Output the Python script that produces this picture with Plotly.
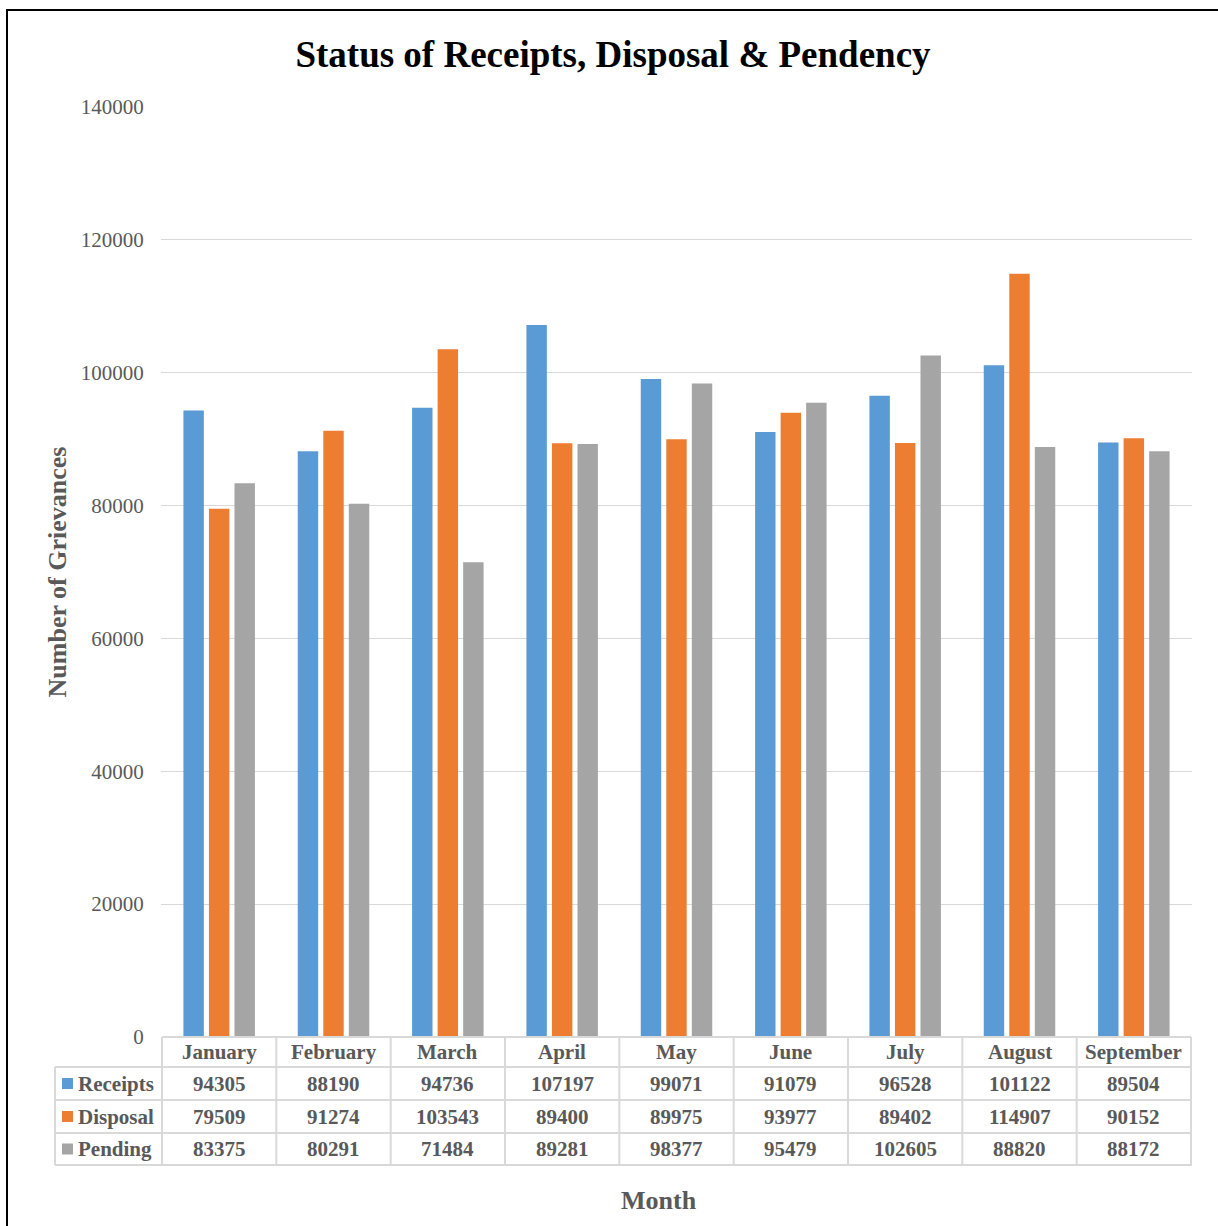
import plotly.graph_objects as go

months = ["January", "February", "March", "April", "May", "June", "July", "August", "September"]
series_names = ["Receipts", "Disposal", "Pending"]
receipts = [94305, 88190, 94736, 107197, 99071, 91079, 96528, 101122, 89504]
disposal = [79509, 91274, 103543, 89400, 89975, 93977, 89402, 114907, 90152]
pending = [83375, 80291, 71484, 89281, 98377, 95479, 102605, 88820, 88172]
colors = ["#5B9BD5", "#ED7D31", "#A5A5A5"]
y_ticks = [0, 20000, 40000, 60000, 80000, 100000, 120000, 140000]

W, H = 1218, 1226
L, R, T, B = 161, 1192, 107, 1037
FONT = "Liberation Serif"
GRAY = "#595959"
LINE = "#D9D9D9"


def py(p):
    return (B - p) / (B - T)


def px(p):
    return (p - L) / (R - L)


fig = go.Figure()
for name, vals, c in zip(series_names, [receipts, disposal, pending], colors):
    fig.add_trace(go.Bar(x=months, y=vals, name=name, marker=dict(color=c, line=dict(width=0))))

shapes = []
annotations = []

# table geometry (pixel rows)
row_edges = [1037, 1067, 1100, 1133, 1165]
n = len(months)
# horizontal lines
shapes.append(dict(type="line", xref="x", yref="paper", x0=-0.5, x1=n - 0.5,
                   y0=py(row_edges[0]), y1=py(row_edges[0]), line=dict(color=LINE, width=2)))
for e in row_edges[1:]:
    shapes.append(dict(type="line", xref="paper", yref="paper", x0=px(55), x1=1.0,
                       y0=py(e), y1=py(e), line=dict(color=LINE, width=2)))
# vertical lines
for k in range(n + 1):
    shapes.append(dict(type="line", xref="x", yref="paper", x0=k - 0.5, x1=k - 0.5,
                       y0=py(row_edges[0]), y1=py(row_edges[-1]), line=dict(color=LINE, width=2)))
shapes.append(dict(type="line", xref="paper", yref="paper", x0=px(55), x1=px(55),
                   y0=py(row_edges[1]), y1=py(row_edges[-1]), line=dict(color=LINE, width=2)))

# header text
hc = (row_edges[0] + row_edges[1]) / 2
for m in months:
    annotations.append(dict(x=m, y=py(hc), xref="x", yref="paper", text=m, showarrow=False,
                            font=dict(family=FONT, size=21, color=GRAY, weight="bold"),
                            xanchor="center", yanchor="middle"))
# rows
for i, (name, vals, c) in enumerate(zip(series_names, [receipts, disposal, pending], colors)):
    rc = (row_edges[i + 1] + row_edges[i + 2]) / 2
    for m, v in zip(months, vals):
        annotations.append(dict(x=m, y=py(rc), xref="x", yref="paper", text=str(v), showarrow=False,
                                font=dict(family=FONT, size=21, color=GRAY, weight="bold"),
                                xanchor="center", yanchor="middle"))
    shapes.append(dict(type="rect", xref="paper", yref="paper", x0=px(62), x1=px(73),
                       y0=py(rc + 5.5), y1=py(rc - 5.5), fillcolor=c, line=dict(width=0)))
    annotations.append(dict(x=px(76), y=py(rc), xref="paper", yref="paper", text=name, showarrow=False,
                            font=dict(family=FONT, size=21, color=GRAY, weight="bold"),
                            xanchor="left", yanchor="middle"))

# x axis title
annotations.append(dict(x=px(659), y=py(1200), xref="paper", yref="paper", text="Month", showarrow=False,
                        font=dict(family=FONT, size=26, color=GRAY, weight="bold"),
                        xanchor="center", yanchor="middle"))

# outer border
shapes.append(dict(type="rect", xref="paper", yref="paper", x0=px(7), x1=px(1260),
                   y0=py(1300), y1=py(10), line=dict(color="black", width=2), fillcolor="rgba(0,0,0,0)"))

fig.update_layout(
    width=W, height=H,
    margin=dict(l=L, r=W - R, t=T, b=H - B, autoexpand=False),
    paper_bgcolor="white", plot_bgcolor="white",
    barmode="group", bargap=0.33, bargroupgap=0.2,
    showlegend=False,
    title=dict(text="Status of Receipts, Disposal & Pendency", x=613 / W, xref="container", xanchor="center",
               y=1 - 54 / H, yref="container", yanchor="middle",
               font=dict(family=FONT, size=37, color="black", weight="bold")),
    xaxis=dict(showticklabels=False, showgrid=False, showline=False, zeroline=False, ticks=""),
    yaxis=dict(range=[0, 140000], tickvals=y_ticks, ticktext=[str(t) for t in y_ticks],
               showgrid=True, gridcolor=LINE, gridwidth=1, zeroline=False, showline=False,
               ticks="outside", ticklen=12, tickcolor="rgba(0,0,0,0)",
               tickfont=dict(family=FONT, size=21, color=GRAY),
               title=dict(text="Number of Grievances", standoff=6,
                          font=dict(family=FONT, size=26, color=GRAY, weight="bold"))),
    shapes=shapes, annotations=annotations,
)

fig.write_html("out.html")
